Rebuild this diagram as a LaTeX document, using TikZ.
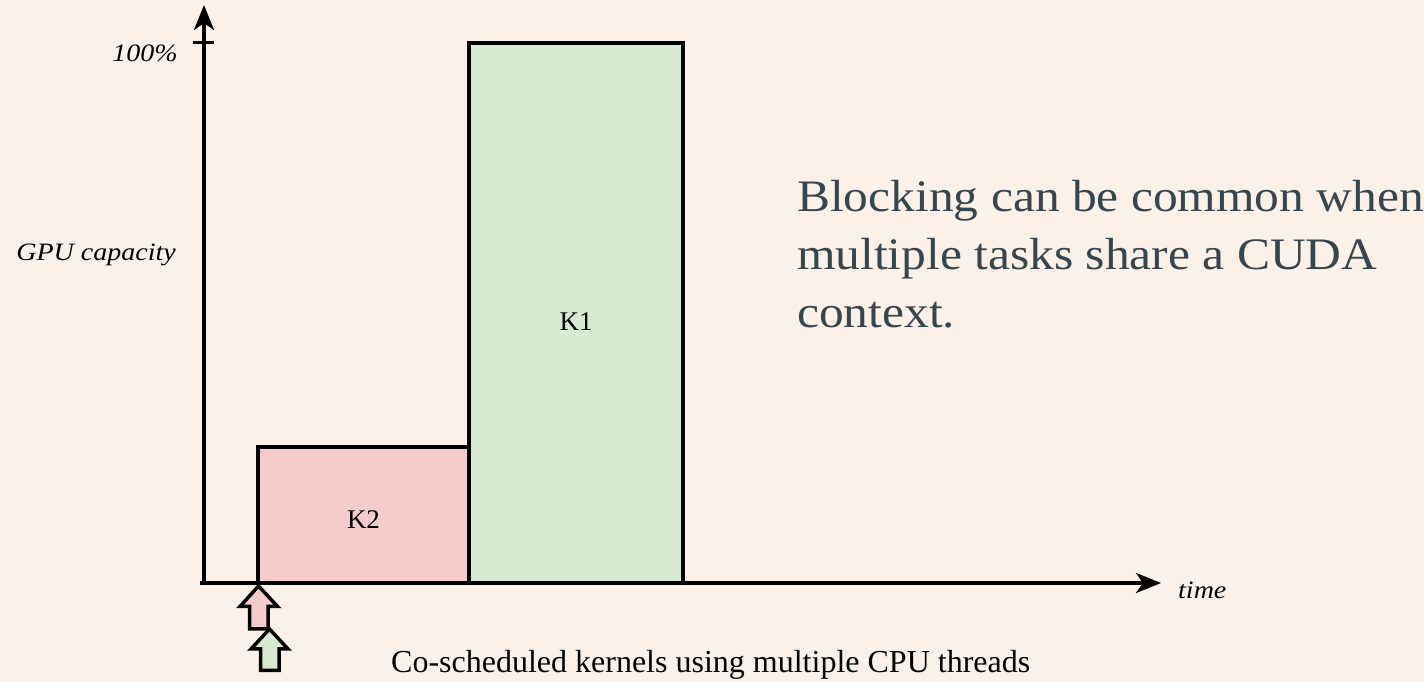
\documentclass[tikz,border=0pt]{standalone}
\usepackage{fontspec}
\setmainfont{Liberation Serif}
\newfontfamily\widefont{Liberation Serif}[FakeStretch=1.1]
\newfontfamily\labelfont{Liberation Serif}[FakeStretch=1.12]
\usetikzlibrary{arrows.meta}
\definecolor{paper}{HTML}{FCF1E9}
\definecolor{kpink}{HTML}{F4CCCC}
\definecolor{kgreen}{HTML}{D9EAD3}
\definecolor{slate}{HTML}{36464E}
\tikzset{
  axis/.style={line width=3.5pt, -{Stealth[length=25pt,width=20pt,inset=7pt]}},
  kernel/.style={draw, line width=3.5pt, inner sep=0pt},
  klabel/.style={font=\fontsize{27}{30}\selectfont, inner sep=0pt},
  axlabel/.style={font=\labelfont\fontsize{25}{28}\selectfont\itshape, inner sep=0pt},
  launch/.style={draw, line width=3.5pt, line join=miter},
}
\begin{document}
\begin{tikzpicture}[x=1pt,y=1pt]
\useasboundingbox[fill=paper] (0,0) rectangle (1424,682);

% kernels on the timeline
\node[kernel, fill=kpink, minimum width=211pt, minimum height=136pt] (k2) at (363.5,167) {};
\node[kernel, fill=kgreen, minimum width=214pt, minimum height=540pt] (k1) at (576,369) {};
\node[klabel] (k2text) at (363.5,162) {K2};
\node[klabel] (k1text) at (576,360) {K1};

% axes
\coordinate (origin) at (204,99);
\coordinate (xstart) at (200,99);
\coordinate (xend) at (1161,99);
\coordinate (yend) at (204,677);
\draw[axis] (xstart) -- (xend);
\draw[axis] (origin) -- (yend);
\coordinate (tickl) at (193,639.5);
\coordinate (tickr) at (214,639.5);
\draw[line width=3.5pt] (tickl) -- (tickr);

\node[axlabel, anchor=base east] (full) at (178,620) {100\%};
\node[axlabel, anchor=base east] (cap) at (176,421) {GPU capacity};
\node[axlabel, anchor=base west] (time) at (1178,83) {time};

% kernel launch arrows
\draw[launch, fill=kpink] (258.5,96) -- (277.5,75.5) -- (268,75.5) -- (268,53) -- (249.5,53) -- (249.5,75.5) -- (240,75.5) -- cycle;
\draw[launch, fill=kgreen] (269.5,53) -- (288,33) -- (279,33) -- (279,11.5) -- (260.5,11.5) -- (260.5,33) -- (251,33) -- cycle;

\node[anchor=base west, inner sep=0pt, font=\fontsize{32}{36}\selectfont] (cosched) at (391,9) {Co-scheduled kernels using multiple CPU threads};

\node[anchor=north west, inner sep=0pt, align=left, text=slate,
      font=\widefont\fontsize{45}{58}\selectfont] (note) at (797,502)
  {Blocking can be common when\\multiple tasks share a CUDA\\context.};
\end{tikzpicture}
\end{document}
